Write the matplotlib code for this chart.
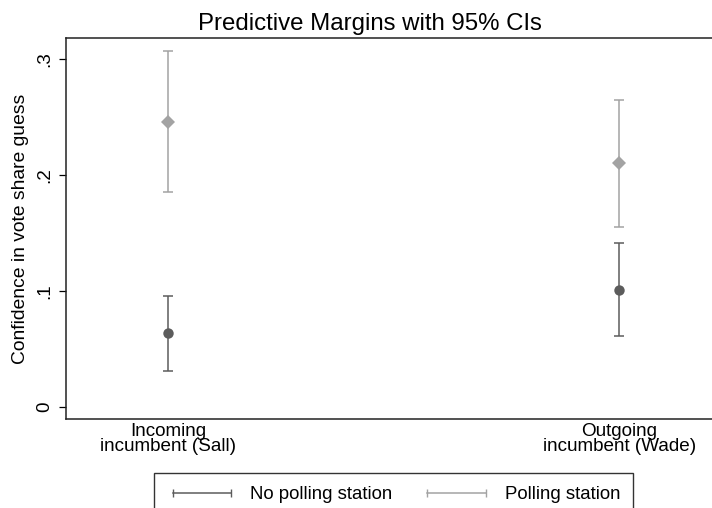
import matplotlib
matplotlib.use("Agg")
import matplotlib.pyplot as plt
from matplotlib.lines import Line2D

plt.rcParams["font.family"] = ["Liberation Sans", "DejaVu Sans"]

# Data
categories = ["Incoming\nincumbent (Sall)", "Outgoing\nincumbent (Wade)"]
no_polling = [0.064, 0.101]
no_polling_lo = [0.031, 0.061]
no_polling_hi = [0.096, 0.141]
polling = [0.246, 0.210]
polling_lo = [0.185, 0.155]
polling_hi = [0.307, 0.265]
yticks = [0, 0.1, 0.2, 0.3]
ytick_labels = ["0", ".1", ".2", ".3"]

dark = "#5c5c5c"
light = "#a3a3a3"

fig = plt.figure(figsize=(7.12, 5.08), dpi=100)
ax = fig.add_axes([0.0923, 0.1752, 0.921, 0.7494])

x = list(range(len(categories)))


def draw(vals, lo, hi, color, marker, ms):
    err = [[v - l for v, l in zip(vals, lo)], [h - v for v, h in zip(vals, hi)]]
    ax.errorbar(x, vals, yerr=err, fmt="none", ecolor=color, elinewidth=1.1,
                capsize=3.4, capthick=1.1)
    ax.plot(x, vals, linestyle="none", marker=marker, markersize=ms,
            color=color, markeredgewidth=0)


draw(no_polling, no_polling_lo, no_polling_hi, dark, "o", 7.5)
draw(polling, polling_lo, polling_hi, light, "D", 7.2)

ax.set_xlim(-0.2268, 1.2268)
ax.set_ylim(-0.0103, 0.3178)
ax.set_xticks(x)
ax.set_xticklabels(categories, fontsize=13.6, linespacing=0.85)
ax.tick_params(axis="x", length=0, pad=3)
ax.set_yticks(yticks)
ax.set_yticklabels(ytick_labels, rotation=90, va="center", fontsize=13.6)
ax.tick_params(axis="y", length=5, width=0.9, pad=4)
ax.set_ylabel("Confidence in vote share guess", fontsize=13.9, labelpad=5)

for side in ["left", "bottom", "top"]:
    ax.spines[side].set_linewidth(1.1)
    ax.spines[side].set_color("#222222")
ax.spines["right"].set_visible(False)

fig.text(370 / 712, 1 - 30 / 508, "Predictive Margins with 95% CIs",
         ha="center", va="baseline", fontsize=17.3)

handles = [
    Line2D([], [], color=dark, lw=1.1, marker="|", markersize=6, markeredgewidth=1),
    Line2D([], [], color=light, lw=1.1, marker="|", markersize=6, markeredgewidth=1),
]
leg = fig.legend(handles, ["No polling station", "Polling station"],
                 loc="upper center", bbox_to_anchor=(393.5 / 712, 1 - 473 / 508),
                 ncol=2, numpoints=2, fontsize=13.4, frameon=True, fancybox=False,
                 handlelength=3.75, handletextpad=0.7, columnspacing=1.6,
                 borderpad=0.7, borderaxespad=0)
leg.get_frame().set_edgecolor("black")
leg.get_frame().set_linewidth(1.0)

fig.savefig("out.png", dpi=100)
